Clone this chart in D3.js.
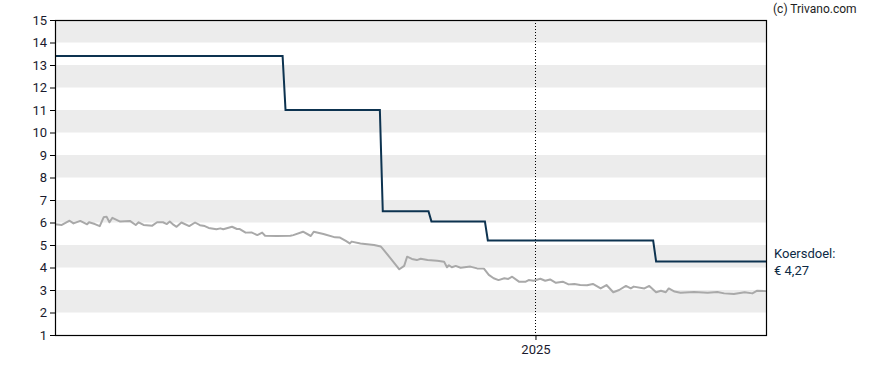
<!DOCTYPE html>
<html>
<head>
<meta charset="utf-8">
<script src="https://cdn.jsdelivr.net/npm/d3@7"></script>
<style>
  body { margin: 0; background: #fff; }
  text { font-family: Roboto, "Noto Sans", sans-serif; }
</style>
</head>
<body>
<script>
// price data (grey line)
var priceDates = ["2023-08-26","2023-09-02","2023-09-10","2023-09-14","2023-09-21","2023-09-28","2023-09-30","2023-10-06","2023-10-11","2023-10-15",
  "2023-10-18","2023-10-21","2023-10-24","2023-11-01","2023-11-11","2023-11-17","2023-11-20","2023-11-25","2023-12-04","2023-12-09",
  "2023-12-15","2023-12-19","2023-12-22","2023-12-26","2023-12-29","2024-01-03","2024-01-11","2024-01-17","2024-01-22","2024-01-27",
  "2024-01-31","2024-02-08","2024-02-12","2024-02-15","2024-02-24","2024-02-29","2024-03-03","2024-03-09","2024-03-15","2024-03-21",
  "2024-03-26","2024-03-29","2024-04-10","2024-04-24","2024-04-27","2024-05-07","2024-05-15","2024-05-18","2024-05-28","2024-06-09",
  "2024-06-14","2024-06-20","2024-06-24","2024-06-26","2024-07-05","2024-07-19","2024-07-26","2024-07-27","2024-08-05","2024-08-14",
  "2024-08-19","2024-08-22","2024-08-27","2024-09-01","2024-09-05","2024-09-12","2024-09-22","2024-09-29","2024-10-02","2024-10-04",
  "2024-10-07","2024-10-11","2024-10-16","2024-10-26","2024-11-02","2024-11-09","2024-11-14","2024-11-19","2024-11-24","2024-11-30",
  "2024-12-04","2024-12-08","2024-12-15","2024-12-22","2024-12-25","2024-12-30","2025-01-06","2025-01-11","2025-01-16","2025-01-22",
  "2025-01-29","2025-02-04","2025-02-10","2025-02-16","2025-02-23","2025-03-01","2025-03-09","2025-03-15","2025-03-22","2025-03-28",
  "2025-04-04","2025-04-09","2025-04-12","2025-04-23","2025-04-28","2025-05-05","2025-05-10","2025-05-15","2025-05-18","2025-05-24",
  "2025-05-30","2025-06-13","2025-06-27","2025-07-07","2025-07-14","2025-07-24","2025-08-04","2025-08-12","2025-08-17","2025-08-26"];
var priceValues = [5.92,5.89,6.08,5.96,6.07,5.92,6.01,5.93,5.84,6.23,
  6.26,6.01,6.21,6.04,6.07,5.89,6.01,5.89,5.86,6.01,
  6.01,5.93,6.04,5.89,5.81,6.00,5.84,6.00,5.88,5.84,
  5.76,5.70,5.74,5.70,5.81,5.71,5.71,5.55,5.56,5.44,
  5.55,5.41,5.40,5.41,5.44,5.59,5.40,5.59,5.49,5.34,
  5.33,5.18,5.07,5.15,5.07,5.00,4.93,4.88,4.41,3.92,
  4.07,4.48,4.38,4.33,4.39,4.33,4.30,4.26,4.01,4.10,
  4.01,4.07,3.99,4.04,3.96,3.95,3.67,3.52,3.44,3.52,
  3.49,3.59,3.37,3.37,3.44,3.41,3.50,3.41,3.47,3.32,
  3.37,3.25,3.27,3.22,3.21,3.27,3.07,3.22,2.90,3.00,
  3.18,3.07,3.15,3.07,3.18,2.90,2.97,2.90,3.07,2.93,
  2.88,2.91,2.88,2.91,2.85,2.82,2.90,2.85,2.97,2.95];

// koersdoel (target price, step line)
var targetDates = ["2023-08-26","2024-04-16","2024-04-19","2024-07-25","2024-07-28","2024-09-13","2024-09-16",
  "2024-11-10","2024-11-13","2025-05-02","2025-05-05","2025-08-26"];
var targetValues = [13.4,13.4,11.0,11.0,6.5,6.5,6.05,6.05,5.2,5.2,4.27,4.27];

var yTicks = [1,2,3,4,5,6,7,8,9,10,11,12,13,14,15];
var bands = [[2,3],[4,5],[6,7],[8,9],[10,11],[12,13],[14,15]];
var xTickDates = ["2025-01-01"];
var xTickLabels = ["2025"];
var domainDates = ["2023-08-26","2025-08-26"];
var targetLabel = ["Koersdoel:", "\u20ac 4,27"];

var margin = {left: 55, right: 122, top: 20, bottom: 35},
  W = 888, H = 370,
  width = W - margin.left - margin.right,
  height = H - margin.top - margin.bottom;

var parse = d3.timeParse("%Y-%m-%d");

var svg = d3.select("body").append("svg")
  .attr("width", W).attr("height", H);

var g = svg.append("g").attr("transform", "translate(" + margin.left + "," + margin.top + ")");

var x = d3.scaleTime().domain(domainDates.map(parse)).range([0, width]);
var y = d3.scaleLinear().domain([1, 15]).range([height, 0]);

// grey bands
g.selectAll("rect.band").data(bands).enter().append("rect")
  .attr("class", "band")
  .attr("x", 0).attr("width", width)
  .attr("y", function(d) { return y(d[1]); })
  .attr("height", function(d) { return y(d[0]) - y(d[1]); })
  .attr("fill", "#ececec");

// dotted year line
g.selectAll("line.year").data(xTickDates).enter().append("line")
  .attr("x1", function(d) { return Math.round(x(parse(d))) + 0.5; })
  .attr("x2", function(d) { return Math.round(x(parse(d))) + 0.5; })
  .attr("y1", 0).attr("y2", height)
  .attr("stroke", "#000").attr("stroke-width", 1)
  .attr("stroke-dasharray", "1,2");

var line = d3.line()
  .x(function(d) { return x(d[0]); })
  .y(function(d) { return y(d[1]); });

var price = priceDates.map(function(d, i) { return [parse(d), priceValues[i]]; });
var target = targetDates.map(function(d, i) { return [parse(d), targetValues[i]]; });

g.append("path").datum(price)
  .attr("d", line)
  .attr("fill", "none")
  .attr("stroke", "#a9a9a9")
  .attr("stroke-width", 2)
  .attr("stroke-linejoin", "round");

g.append("path").datum(target)
  .attr("d", line)
  .attr("fill", "none")
  .attr("stroke", "#0d3350")
  .attr("stroke-width", 2);

// frame
g.append("rect")
  .attr("x", 0.5).attr("y", 0.5)
  .attr("width", width).attr("height", height)
  .attr("fill", "none").attr("stroke", "#000").attr("stroke-width", 1.2);

// axes
var yAxis = g.append("g")
  .call(d3.axisLeft(y).tickValues(yTicks).tickSize(5).tickPadding(3).tickFormat(d3.format("d")));
yAxis.select(".domain").remove();
yAxis.selectAll("text").attr("font-size", 13).attr("fill", "#1a1a2e")
  .style("font-family", "Roboto, sans-serif");

var xAxis = g.append("g").attr("transform", "translate(0," + height + ")")
  .call(d3.axisBottom(x).tickValues(xTickDates.map(parse)).tickSize(5).tickPadding(5)
    .tickFormat(function(d, i) { return xTickLabels[i]; }));
xAxis.select(".domain").remove();
xAxis.selectAll("text").attr("font-size", 13).attr("fill", "#1a1a2e")
  .style("font-family", "Roboto, sans-serif");

// labels
svg.append("text")
  .attr("x", 773).attr("y", 13)
  .attr("font-size", 12).attr("fill", "#222")
  .text("(c) Trivano.com");

svg.selectAll("text.target").data(targetLabel).enter().append("text")
  .attr("class", "target")
  .attr("x", 774)
  .attr("y", function(d, i) { return 258 + i * 17; })
  .attr("font-size", 13).attr("fill", "#0d2a45")
  .text(function(d) { return d; });
</script>
</body>
</html>
